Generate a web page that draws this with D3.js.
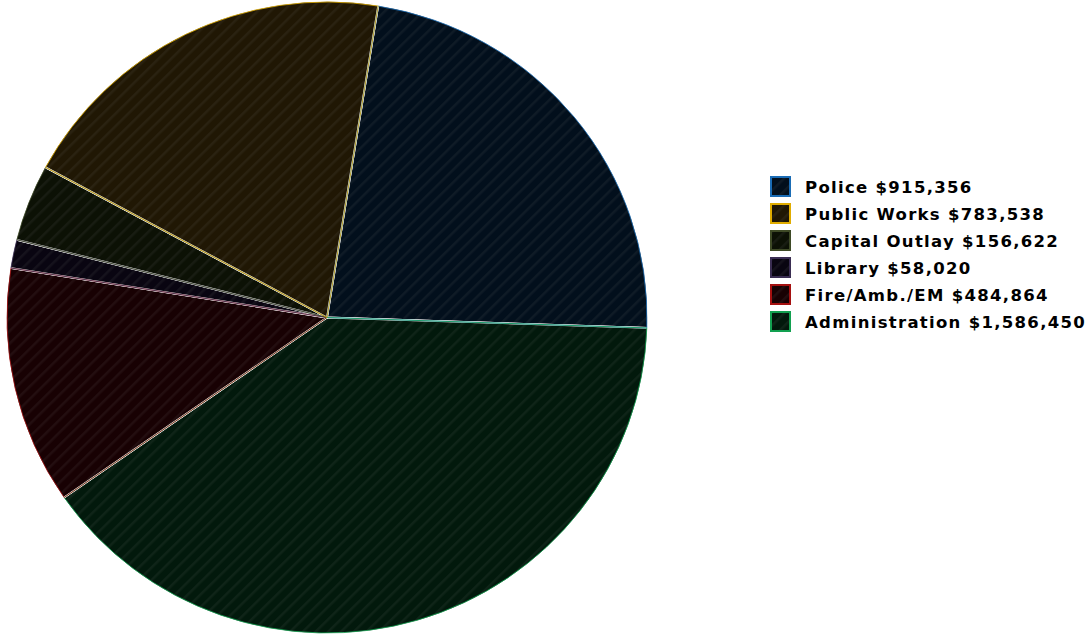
<!DOCTYPE html>
<html><head><meta charset="utf-8">
<script src="https://cdn.jsdelivr.net/npm/d3@7"></script>
<style>html,body{margin:0;padding:0;background:#fff;}</style>
</head><body>
<svg id="c" width="1089" height="636"></svg>
<script>
const categories = ["Police", "Public Works", "Capital Outlay", "Library", "Fire/Amb./EM", "Administration"];
const values = [915356, 783538, 156622, 58020, 484864, 1586450];
const fills = ["#020f1c", "#201704", "#0c1105", "#090511", "#180103", "#02190c"];
const strokes = ["#1a6cb5", "#e0ac00", "#3e4a26", "#3a2d52", "#a51010", "#12a050"];
// pie drawing order (clockwise from ~9° past 12 o'clock)
const pieOrder = [0, 5, 4, 3, 2, 1];

const svg = d3.select("#c");
const defs = svg.append("defs");
categories.forEach((c, i) => {
  const p = defs.append("pattern").attr("id", "pat" + i)
    .attr("patternUnits", "userSpaceOnUse").attr("width", 9).attr("height", 9)
    .attr("patternTransform", "rotate(45)");
  p.append("rect").attr("width", 9).attr("height", 9).attr("fill", fills[i]);
  p.append("rect").attr("x", 0).attr("width", 2.5).attr("height", 9)
    .attr("fill", "rgba(140,140,140,0.09)");
});

const cx = 327, cy = 317.5, rx = 321, ry = 316.5;
const g = svg.append("g").attr("transform", `translate(${cx},${cy}) scale(1,${ry/rx})`);
const startA = 9.2 * Math.PI / 180;
const pie = d3.pie().sort(null).value(i => values[i])
  .startAngle(startA).endAngle(startA + 2 * Math.PI);
const arcs = pie(pieOrder);
const arc = d3.arc().innerRadius(0).outerRadius(rx);
g.selectAll("path.s").data(arcs).join("path").attr("class", "s")
  .attr("d", arc)
  .attr("fill", d => `url(#pat${d.data})`)
  .attr("stroke", "#ffffff").attr("stroke-width", 1.8).attr("stroke-linejoin", "round");
const arcIn = d3.arc().innerRadius(0).outerRadius(rx - 1);
g.selectAll("path.o").data(arcs).join("path").attr("class", "o")
  .attr("d", arcIn)
  .attr("fill", "none")
  .attr("stroke", d => strokes[d.data]).attr("stroke-width", 0.8);

const leg = svg.append("g").attr("transform", "translate(771,177)");
const rows = leg.selectAll("g").data(categories).join("g")
  .attr("transform", (d, i) => `translate(0,${i * 27})`);
rows.append("rect").attr("width", 19).attr("height", 19)
  .attr("fill", (d, i) => `url(#pat${i})`)
  .attr("stroke", (d, i) => strokes[i]).attr("stroke-width", 2);
rows.append("text").attr("x", 34).attr("y", 16)
  .attr("font-family", "'DejaVu Sans', Verdana, sans-serif")
  .attr("font-weight", "bold").attr("font-size", 16.5)
  .attr("letter-spacing", 1.3).attr("fill", "#000")
  .text((d, i) => `${d} $${d3.format(",")(values[i])}`);
</script>
</body></html>
